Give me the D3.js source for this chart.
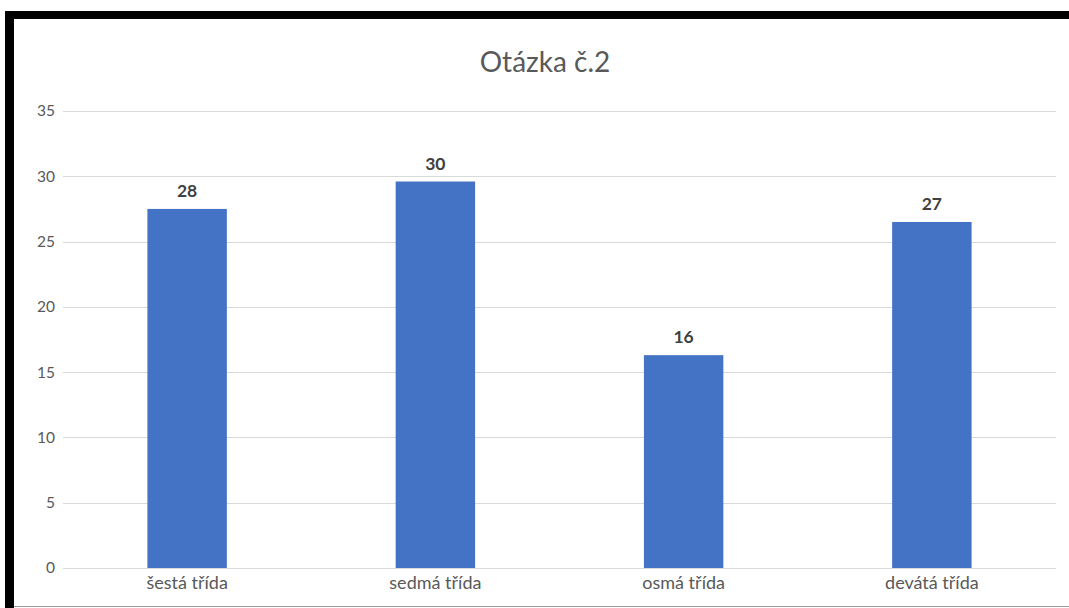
<!DOCTYPE html>
<html><head><meta charset="utf-8">
<script src="https://cdn.jsdelivr.net/npm/d3@7"></script>
<style>
html,body{margin:0;padding:0;background:#fff;}
svg{display:block;}
</style></head>
<body>
<svg id="chart" width="1069" height="608"></svg>
<script>
const categories = ["šestá třída", "sedmá třída", "osmá třída", "devátá třída"];
const values = [27.5, 29.6, 16.3, 26.5];
const yTicks = [0, 5, 10, 15, 20, 25, 30, 35];
const title = "Otázka č.2";

(function(){
const svg = d3.select("#chart");
const W = 1069, H = 608;
const FONT = "Lato, 'Open Sans', sans-serif";

svg.append("rect").attr("x",0).attr("y",0).attr("width",W).attr("height",H).attr("fill","#fff");

const mLeft = 63, mRight = 1056, mTop = 111, mBottom = 568;

const x = d3.scaleBand().domain(categories).range([mLeft, mRight])
  .paddingInner(0.68).paddingOuter(0.34);
const y = d3.scaleLinear().domain([0, 35]).range([mBottom, mTop]);

// gridlines
svg.append("g").selectAll("line").data(yTicks).join("line")
  .attr("x1", mLeft).attr("x2", mRight)
  .attr("y1", d => Math.round(y(d)) + 0.5).attr("y2", d => Math.round(y(d)) + 0.5)
  .attr("stroke", "#d9d9d9").attr("stroke-width", 1);

// y axis labels
const yAxis = d3.axisLeft(y).tickValues(yTicks).tickSize(0).tickPadding(8);
const gy = svg.append("g").attr("transform", `translate(${mLeft},0)`).call(yAxis);
gy.select(".domain").remove();
gy.selectAll("text").attr("font-family", FONT).attr("font-size", 15.5).attr("fill", "#595959");

// x axis labels
const xAxis = d3.axisBottom(x).tickSize(0).tickPadding(8);
const gx = svg.append("g").attr("transform", `translate(0,${mBottom})`).call(xAxis);
gx.select(".domain").remove();
gx.selectAll("text").attr("font-family", FONT).attr("font-size", 18).attr("fill", "#595959");

// bars
svg.append("g").selectAll("rect").data(values).join("rect")
  .attr("x", (d,i) => x(categories[i]))
  .attr("width", x.bandwidth())
  .attr("y", d => y(d))
  .attr("height", d => y(0) - y(d))
  .attr("fill", "#4472c4");

// data labels
svg.append("g").selectAll("text").data(values).join("text")
  .attr("x", (d,i) => x(categories[i]) + x.bandwidth()/2)
  .attr("y", d => y(d) - 12)
  .attr("text-anchor", "middle")
  .attr("font-family", FONT).attr("font-size", 17.5).attr("font-weight", 700)
  .attr("fill", "#404040")
  .text(d => Math.round(d));

// title
svg.append("text").attr("x", 545).attr("y", 72).attr("text-anchor", "middle")
  .attr("font-family", FONT).attr("font-size", 28).attr("fill", "#595959")
  .text(title);

// frame
svg.append("rect").attr("x", 5).attr("y", 11).attr("width", W - 5).attr("height", 8).attr("fill", "#000");
svg.append("rect").attr("x", 5).attr("y", 11).attr("width", 9).attr("height", H - 11).attr("fill", "#000");
svg.append("line").attr("x1", 14).attr("x2", W).attr("y1", 606.5).attr("y2", 606.5)
  .attr("stroke", "#999").attr("stroke-width", 1);
})();
</script>
</body></html>
